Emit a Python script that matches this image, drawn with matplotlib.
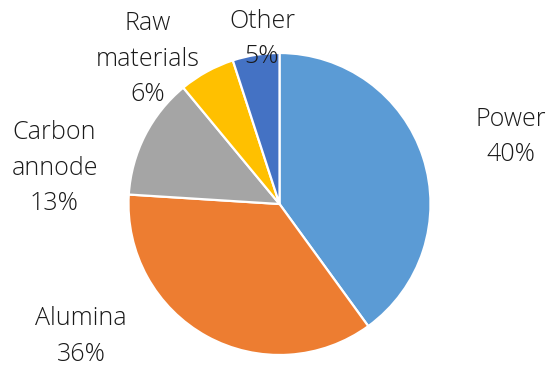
import matplotlib
matplotlib.use('Agg')
import matplotlib.pyplot as plt

# cost breakdown
names = ['Power', 'Alumina', 'Carbon\nannode', 'Raw\nmaterials', 'Other']
shares = [40, 36, 13, 6, 5]
colors = ['#5B9BD5', '#ED7D31', '#A5A5A5', '#FFC000', '#4472C4']

# label positions around the pie (in units of the radius)
label_pos = [(1.533, 0.444), (-1.315, -0.877), (-1.490, 0.238), (-0.871, 0.960), (-0.116, 1.094)]

W, H = 548, 367
cx, cy, r = 279.5, 204, 151

fig = plt.figure(figsize=(W / 100, H / 100), dpi=100)
ax = fig.add_axes([(cx - r) / W, (H - cy - r) / H, 2 * r / W, 2 * r / H])

ax.pie(shares, colors=colors, startangle=90, counterclock=False, radius=1,
       wedgeprops=dict(edgecolor='white', linewidth=1.6))
ax.set_xlim(-1, 1)
ax.set_ylim(-1, 1)
ax.set_aspect('equal')
ax.axis('off')

for name, val, (x, y) in zip(names, shares, label_pos):
    ax.text(x, y, f'{name}\n{val}%', ha='center', va='center', fontsize=18,
            family='Open Sans', fontweight='light', color='#1a1a1a',
            linespacing=1.55, clip_on=False)

fig.savefig('out.png', dpi=100)
